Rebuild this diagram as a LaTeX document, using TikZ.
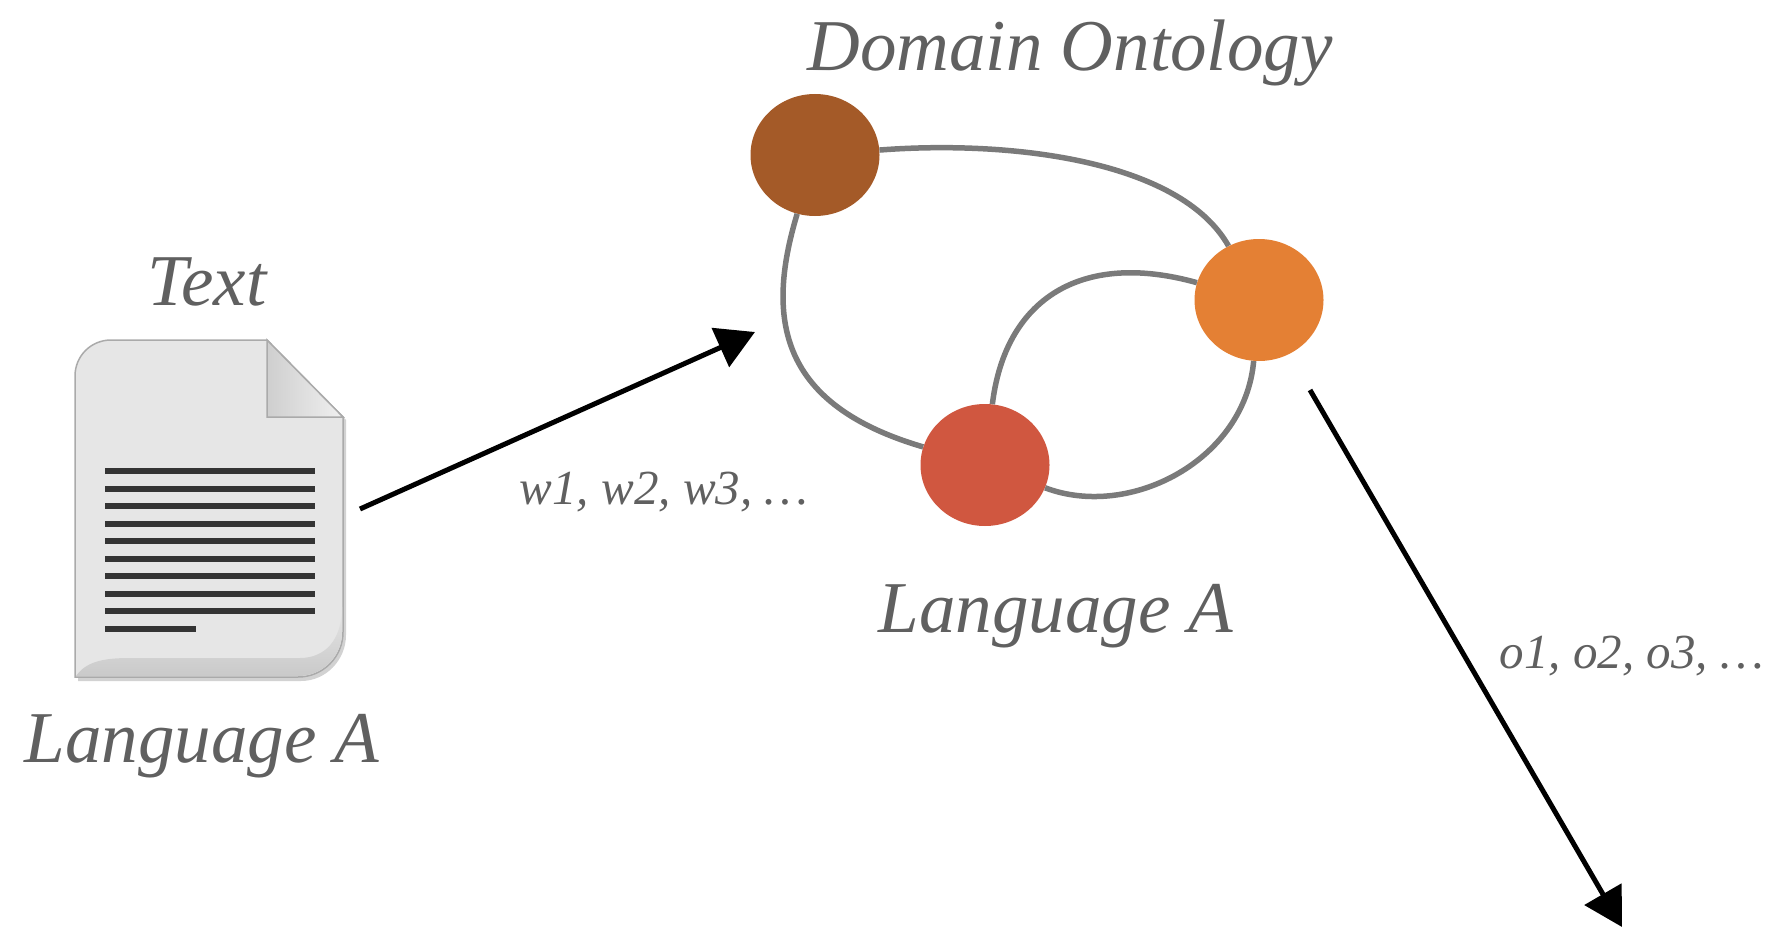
\documentclass[tikz,border=0pt]{standalone}
\usepackage{fontspec}
\setmainfont{Liberation Serif}
\usepackage{xcolor}
\usepackage{tikz}
\usetikzlibrary{shapes.geometric, arrows.meta}

\definecolor{conceptbrown}{RGB}{164,90,40}
\definecolor{conceptorange}{RGB}{228,128,52}
\definecolor{conceptred}{RGB}{208,87,64}
\definecolor{edgegray}{RGB}{122,122,122}
\definecolor{labelgray}{RGB}{96,96,96}
\definecolor{paper}{RGB}{230,230,230}
\definecolor{paperedge}{RGB}{170,170,170}
\definecolor{inkline}{RGB}{52,52,52}

\begin{document}
\begin{tikzpicture}[x=1pt, y=-1pt,
    concept/.style={ellipse, minimum width=129pt, minimum height=122pt, inner sep=0pt},
    relation/.style={draw=edgegray, line width=5.5pt},
    biglabel/.style={font=\fontsize{73}{84}\selectfont\itshape, text=labelgray, inner sep=0pt, anchor=base},
    smalllabel/.style={font=\fontsize{49}{58}\selectfont\itshape, text=labelgray, inner sep=0pt, anchor=base},
    sketcharrow/.style={-{Triangle[length=38pt, width=42pt]}, line width=5pt, black}]
    \useasboundingbox (0,0) rectangle (1774,931);
    % Document icon
    \fill[gray!35] (78,681) -- (78,379) .. controls (78,359) and (94,343) .. (114,343) -- (270,343) -- (346,420) -- (346,635) .. controls (346,660) and (326,681) .. (301,681) -- cycle;
    \filldraw[fill=paper, draw=paperedge, line width=1.5pt] (75,677) -- (75,376) .. controls (75,356) and (91,340) .. (111,340) -- (267,340) -- (343,417) -- (343,632) .. controls (343,657) and (323,677) .. (298,677) -- cycle;
    \shade[top color=gray!20, bottom color=gray!42] (76,676) .. controls (86,662) and (102,658) .. (130,658) -- (300,658) .. controls (325,658) and (342,640) .. (342,607) -- (342,632) .. controls (342,656) and (323,676) .. (298,676) -- cycle;
    \shade[left color=gray!38, right color=gray!12, draw=paperedge, line width=1.5pt] (267,340) -- (267,417) -- (343,417) -- cycle;
    \foreach \k in {0,...,8}
        \fill[inkline] (105,{468+17.5*\k}) rectangle (315,{474+17.5*\k});
    \fill[inkline] (105,625.5) rectangle (196,631.5);
    % Labels
    \node[biglabel] (textlbl) at (207,305) {Text};
    \node[biglabel] (langleft) at (202,762) {Language A};
    \node[biglabel] (title) at (1070,71) {Domain Ontology};
    \node[biglabel] (langmid) at (1056,632) {Language A};
    % Ontology concepts
    \node[concept, fill=conceptbrown] (c-top) at (815,155) {};
    \node[concept, fill=conceptorange] (c-right) at (1259,300) {};
    \node[concept, fill=conceptred] (c-low) at (985,465) {};
    % Relations
    \draw[relation] (c-top) .. controls (1010,140) and (1180,160) .. (c-right);
    \draw[relation] (c-top) .. controls (765,320) and (780,405) .. (c-low);
    \draw[relation] (c-low) .. controls (1005,300) and (1080,250) .. (c-right);
    \draw[relation] (c-low) .. controls (1130,520) and (1245,460) .. (c-right);
    % Input and output arrows
    \coordinate (w-start) at (360,509);
    \coordinate (w-end) at (755,332);
    \coordinate (o-start) at (1310,390);
    \coordinate (o-end) at (1622,927);
    \draw[sketcharrow] (w-start) -- (w-end);
    \draw[sketcharrow] (o-start) -- (o-end);
    \node[smalllabel] (wlbl) at (664,504) {w1, w2, w3, \ldots};
    \node[smalllabel] (olbl) at (1632,668) {o1, o2, o3, \ldots};
\end{tikzpicture}
\end{document}
